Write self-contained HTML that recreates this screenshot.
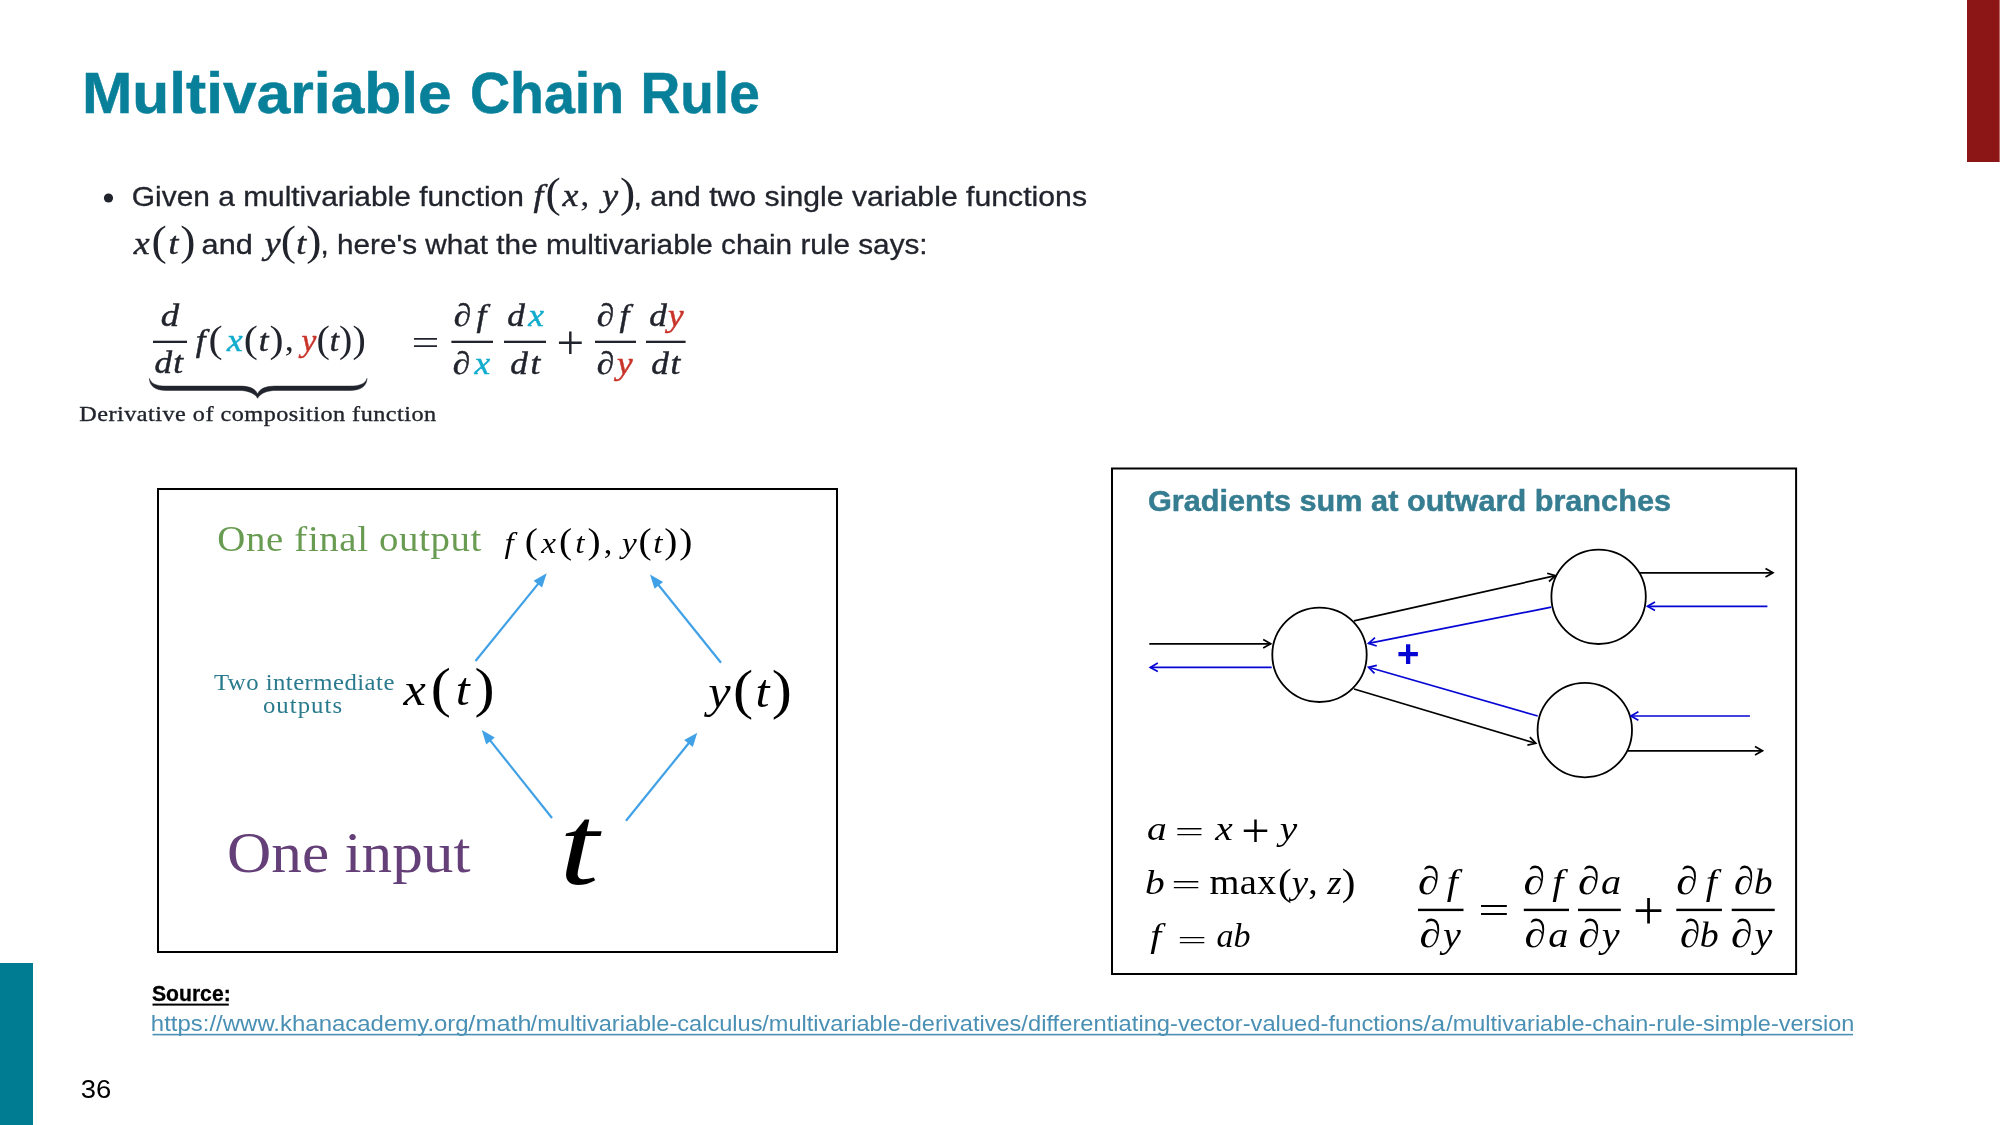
<!DOCTYPE html>
<html lang="en"><head><meta charset="utf-8"><title>Multivariable Chain Rule</title>
<style>html,body{margin:0;padding:0;background:#fff;overflow:hidden}svg{display:block}
#texts{will-change:opacity}text{white-space:pre}.s{font-family:"Liberation Sans", sans-serif}.sb{font-family:"Liberation Sans", sans-serif;font-weight:bold}.r{font-family:"Liberation Serif", serif}
</style></head><body>
<svg width="2000" height="1125" viewBox="0 0 2000 1125">
<rect width="2000" height="1125" fill="#fff"/>
<g id="shapes">
<rect x="1967" y="0" width="33" height="162" fill="#8c1515"/>
<rect x="1999.2" y="0" width="0.8" height="162" fill="#c98080"/>
<rect x="0" y="963" width="33" height="162" fill="#007c92"/>
<circle cx="108.5" cy="198" r="4.6" fill="#21242c"/>
<rect x="153.0" y="340.7" width="34.0" height="2.3" fill="#21242c"/>
<rect x="451.4" y="340.7" width="41.6" height="2.3" fill="#21242c"/>
<rect x="504.0" y="340.7" width="42.0" height="2.3" fill="#21242c"/>
<rect x="595.0" y="340.7" width="41.0" height="2.3" fill="#21242c"/>
<rect x="646.0" y="340.7" width="39.6" height="2.3" fill="#21242c"/>
<path d="M149.4,378.4 C151,383.5 156,386.1 166,386.1 L240,386.1 C250,386.1 255.5,389 257.6,394 C259.7,389 265,386.1 275,386.1 L350,386.1 C360,386.1 365.5,383.5 367,378.4 C366.8,386.5 360,390.4 350,390.4 L277,390.4 C267,390.4 260.5,393 257.6,398.3 C254.7,393 248,390.4 238,390.4 L166,390.4 C156,390.4 149.6,386.5 149.4,378.4 Z" fill="#21242c" stroke="#21242c" stroke-width="0.5" stroke-linejoin="round"/>
<rect x="158" y="489" width="679" height="463" fill="none" stroke="#000" stroke-width="2"/>
<line x1="475.5" y1="661.0" x2="539.1" y2="582.6" stroke="#41a1e6" stroke-width="2.2"/><polygon points="546.7,573.3 542.1,587.6 533.6,580.7" fill="#41a1e6"/>
<line x1="721.0" y1="662.7" x2="657.5" y2="583.8" stroke="#41a1e6" stroke-width="2.2"/><polygon points="650.0,574.4 663.1,581.9 654.5,588.8" fill="#41a1e6"/>
<line x1="552.0" y1="818.0" x2="489.3" y2="739.4" stroke="#41a1e6" stroke-width="2.2"/><polygon points="481.8,730.0 494.8,737.5 486.2,744.4" fill="#41a1e6"/>
<line x1="626.0" y1="820.7" x2="689.7" y2="742.0" stroke="#41a1e6" stroke-width="2.2"/><polygon points="697.3,732.7 692.8,747.0 684.2,740.1" fill="#41a1e6"/>
<path d="M1112,468.4 H1796.1 V974 H1112 Z" fill="none" stroke="#000" stroke-width="2"/>
<circle cx="1319.5" cy="654.8" r="47.2" fill="none" stroke="#000" stroke-width="1.8"/>
<circle cx="1598.6" cy="596.8" r="47.2" fill="none" stroke="#000" stroke-width="1.8"/>
<circle cx="1584.8" cy="730.1" r="47.2" fill="none" stroke="#000" stroke-width="1.8"/>
<line x1="1149.3" y1="643.8" x2="1270.7" y2="643.8" stroke="#000" stroke-width="1.7"/><polyline points="1263.2,648.0 1270.7,643.8 1263.2,639.5" fill="none" stroke="#000" stroke-width="1.7" stroke-linejoin="miter"/>
<line x1="1271.7" y1="667.4" x2="1150.3" y2="667.4" stroke="#0505d4" stroke-width="1.7"/><polyline points="1157.8,663.1 1150.3,667.4 1157.8,671.6" fill="none" stroke="#0505d4" stroke-width="1.7" stroke-linejoin="miter"/>
<line x1="1354.0" y1="620.8" x2="1555.4" y2="575.7" stroke="#000" stroke-width="1.7"/><polyline points="1549.0,581.5 1555.4,575.7 1547.2,573.2" fill="none" stroke="#000" stroke-width="1.7" stroke-linejoin="miter"/>
<line x1="1551.3" y1="607.2" x2="1368.5" y2="643.3" stroke="#0505d4" stroke-width="1.7"/><polyline points="1375.0,637.7 1368.5,643.3 1376.7,646.0" fill="none" stroke="#0505d4" stroke-width="1.7" stroke-linejoin="miter"/>
<line x1="1537.7" y1="716.0" x2="1368.5" y2="667.3" stroke="#0505d4" stroke-width="1.7"/><polyline points="1376.8,665.3 1368.5,667.3 1374.5,673.4" fill="none" stroke="#0505d4" stroke-width="1.7" stroke-linejoin="miter"/>
<line x1="1354.0" y1="689.0" x2="1535.8" y2="743.3" stroke="#000" stroke-width="1.7"/><polyline points="1527.4,745.2 1535.8,743.3 1529.9,737.1" fill="none" stroke="#000" stroke-width="1.7" stroke-linejoin="miter"/>
<line x1="1639.0" y1="572.8" x2="1773.0" y2="572.8" stroke="#000" stroke-width="1.7"/><polyline points="1765.5,577.0 1773.0,572.8 1765.5,568.5" fill="none" stroke="#000" stroke-width="1.7" stroke-linejoin="miter"/>
<line x1="1767.4" y1="606.3" x2="1647.5" y2="606.3" stroke="#0505d4" stroke-width="1.7"/><polyline points="1655.0,602.0 1647.5,606.3 1655.0,610.5" fill="none" stroke="#0505d4" stroke-width="1.7" stroke-linejoin="miter"/>
<line x1="1749.9" y1="716.0" x2="1630.9" y2="716.0" stroke="#0505d4" stroke-width="1.7"/><polyline points="1638.4,711.8 1630.9,716.0 1638.4,720.2" fill="none" stroke="#0505d4" stroke-width="1.7" stroke-linejoin="miter"/>
<line x1="1627.7" y1="750.8" x2="1762.5" y2="750.8" stroke="#000" stroke-width="1.7"/><polyline points="1755.0,755.0 1762.5,750.8 1755.0,746.5" fill="none" stroke="#000" stroke-width="1.7" stroke-linejoin="miter"/>
<rect x="1418.0" y="908.7" width="45.5" height="2.4" fill="#000"/>
<rect x="1523.8" y="908.7" width="45.2" height="2.4" fill="#000"/>
<rect x="1578.0" y="908.7" width="42.8" height="2.4" fill="#000"/>
<rect x="1676.3" y="908.7" width="45.6" height="2.4" fill="#000"/>
<rect x="1731.7" y="908.7" width="43.0" height="2.4" fill="#000"/>
<rect x="152.5" y="1003.6" width="76.3" height="2" fill="#000"/>
<rect x="152.5" y="1033.8" width="1700.5" height="1.6" fill="#4a90b4"/>
</g>
<g id="texts">
<text id="title1" class="sb" x="81.90" y="112.50" font-size="57.30" fill="#09809A" textLength="369.84" lengthAdjust="spacingAndGlyphs" stroke="#09809A" stroke-width="0.50">Multivariable</text>
<text id="title2" class="sb" x="469.97" y="112.50" font-size="57.30" fill="#09809A" textLength="154.24" lengthAdjust="spacingAndGlyphs" stroke="#09809A" stroke-width="0.50">Chain</text>
<text id="title3" class="sb" x="640.44" y="112.50" font-size="57.30" fill="#09809A" textLength="119.38" lengthAdjust="spacingAndGlyphs" stroke="#09809A" stroke-width="0.50">Rule</text>
<text id="b1a" class="s" x="131.87" y="206.00" font-size="27.50" fill="#21242c" textLength="391.98" lengthAdjust="spacingAndGlyphs" stroke="#21242c" stroke-width="0.30">Given a multivariable function</text>
<text id="b1m" class="r" transform="translate(533.57 206.00) scale(1.1000 1)" font-size="33.00" fill="#21242c" textLength="92.37" lengthAdjust="spacing" stroke="#21242c" stroke-width="0.45"><tspan font-style="italic" font-size="32.50">f</tspan><tspan stroke="none" font-size="41.50" dy="1.20">(</tspan><tspan font-style="italic" font-size="32.50" dy="-1.20">x</tspan><tspan stroke="none">, </tspan><tspan font-style="italic" font-size="32.50">y</tspan><tspan stroke="none" font-size="41.50" dy="1.20">)</tspan></text>
<text id="b1b" class="s" x="633.59" y="206.00" font-size="27.50" fill="#21242c" textLength="453.43" lengthAdjust="spacingAndGlyphs" stroke="#21242c" stroke-width="0.30">, and two single variable functions</text>
<text id="b2m1" class="r" transform="translate(133.74 254.00) scale(1.1000 1)" font-size="33.00" fill="#21242c" textLength="56.14" lengthAdjust="spacing" stroke="#21242c" stroke-width="0.45"><tspan font-style="italic" font-size="32.50">x</tspan><tspan stroke="none" font-size="41.50" dy="1.20">(</tspan><tspan font-style="italic" font-size="32.50" dy="-1.20">t</tspan><tspan stroke="none" font-size="41.50" dy="1.20">)</tspan></text>
<text id="b2a" class="s" x="201.63" y="254.00" font-size="27.50" fill="#21242c" textLength="51.13" lengthAdjust="spacingAndGlyphs" stroke="#21242c" stroke-width="0.30">and</text>
<text id="b2m2" class="r" transform="translate(264.74 254.00) scale(1.1000 1)" font-size="33.00" fill="#21242c" textLength="51.65" lengthAdjust="spacing" stroke="#21242c" stroke-width="0.45"><tspan font-style="italic" font-size="32.50">y</tspan><tspan stroke="none" font-size="41.50" dy="1.20">(</tspan><tspan font-style="italic" font-size="32.50" dy="-1.20">t</tspan><tspan stroke="none" font-size="41.50" dy="1.20">)</tspan></text>
<text id="b2b" class="s" x="320.48" y="254.00" font-size="27.50" fill="#21242c" textLength="607.17" lengthAdjust="spacingAndGlyphs" stroke="#21242c" stroke-width="0.30">, here's what the multivariable chain rule says:</text>
<text id="f1n" class="r" transform="translate(160.83 326.00) scale(1.1500 1)" font-size="32.00" fill="#21242c" textLength="16.00" lengthAdjust="spacing" stroke="#21242c" stroke-width="0.45"><tspan font-style="italic">d</tspan></text>
<text id="f1d" class="r" transform="translate(154.44 373.00) scale(1.1000 1)" font-size="32.00" fill="#21242c" textLength="26.04" lengthAdjust="spacing" stroke="#21242c" stroke-width="0.45"><tspan font-style="italic">dt</tspan></text>
<text id="f1f" class="r" transform="translate(195.81 351.00) scale(1.1000 1)" font-size="32.00" fill="#21242c" textLength="24.23" lengthAdjust="spacing" stroke="#21242c" stroke-width="0.45"><tspan font-style="italic">f</tspan><tspan stroke="none" font-size="38.40" dy="1.00">(</tspan></text>
<text id="f1x" class="r" transform="translate(227.05 351.00) scale(1.1000 1)" font-size="32.00" fill="#21242c" textLength="60.67" lengthAdjust="spacing" stroke="#21242c" stroke-width="0.45"><tspan font-style="italic" fill="#11accd" stroke="#11accd">x</tspan><tspan stroke="none" font-size="38.40" dy="1.00">(</tspan><tspan font-style="italic" dy="-1.00">t</tspan><tspan stroke="none" font-size="38.40" dy="1.00">)</tspan><tspan stroke="none" font-size="33.00" dy="-1.00">,</tspan></text>
<text id="f1t2" class="r" transform="translate(301.56 351.00) scale(1.0436 1)" font-size="32.00" fill="#21242c" textLength="61.56" lengthAdjust="spacing" stroke="#21242c" stroke-width="0.45"><tspan font-style="italic" fill="#c9342a" stroke="#c9342a">y</tspan><tspan stroke="none" font-size="38.40" dy="1.00">(</tspan><tspan font-style="italic" dy="-1.00">t</tspan><tspan stroke="none" font-size="38.40" dy="1.00">))</tspan></text>
<text id="f1lbl" class="r" transform="translate(79.30 421.00) scale(1.1000 1)" font-size="22.00" fill="#21242c" textLength="324.44" lengthAdjust="spacing" stroke="#21242c" stroke-width="0.35">Derivative of composition function</text>
<text id="f1eq" class="r" x="411.52" y="355.00" font-size="35.00" fill="#21242c" textLength="27.93" lengthAdjust="spacingAndGlyphs">=</text>
<text id="f2an" class="r" transform="translate(453.81 326.20) scale(1.1000 1)" font-size="32.00" fill="#21242c" textLength="29.43" lengthAdjust="spacing" stroke="#21242c" stroke-width="0.45"><tspan font-style="italic">∂f</tspan></text>
<text id="f2ad" class="r" transform="translate(452.81 373.50) scale(1.1000 1)" font-size="32.00" fill="#21242c" textLength="33.93" lengthAdjust="spacing" stroke="#21242c" stroke-width="0.45"><tspan font-style="italic">∂</tspan><tspan font-style="italic" fill="#11accd" stroke="#11accd">x</tspan></text>
<text id="f2bn" class="r" transform="translate(507.13 326.20) scale(1.1000 1)" font-size="32.00" fill="#21242c" textLength="33.50" lengthAdjust="spacing" stroke="#21242c" stroke-width="0.45"><tspan font-style="italic">d</tspan><tspan font-style="italic" fill="#11accd" stroke="#11accd">x</tspan></text>
<text id="f2bd" class="r" transform="translate(510.13 373.50) scale(1.1000 1)" font-size="32.00" fill="#21242c" textLength="27.51" lengthAdjust="spacing" stroke="#21242c" stroke-width="0.45"><tspan font-style="italic">dt</tspan></text>
<text id="f2pl" class="r" x="556.56" y="359.02" font-size="49.42" fill="#21242c" textLength="27.62" lengthAdjust="spacingAndGlyphs">+</text>
<text id="f2cn" class="r" transform="translate(596.81 326.20) scale(1.1000 1)" font-size="32.00" fill="#21242c" textLength="29.43" lengthAdjust="spacing" stroke="#21242c" stroke-width="0.45"><tspan font-style="italic">∂f</tspan></text>
<text id="f2cd" class="r" transform="translate(596.81 373.50) scale(1.1000 1)" font-size="32.00" fill="#21242c" textLength="32.64" lengthAdjust="spacing" stroke="#21242c" stroke-width="0.45"><tspan font-style="italic">∂</tspan><tspan font-style="italic" fill="#c9342a" stroke="#c9342a">y</tspan></text>
<text id="f2dn" class="r" transform="translate(649.13 326.20) scale(1.1000 1)" font-size="32.00" fill="#21242c" textLength="31.41" lengthAdjust="spacing" stroke="#21242c" stroke-width="0.45"><tspan font-style="italic">d</tspan><tspan font-style="italic" fill="#c9342a" stroke="#c9342a">y</tspan></text>
<text id="f2dd" class="r" transform="translate(651.13 373.50) scale(1.1000 1)" font-size="32.00" fill="#21242c" textLength="26.55" lengthAdjust="spacing" stroke="#21242c" stroke-width="0.45"><tspan font-style="italic">dt</tspan></text>
<text id="ofo" class="r" transform="translate(217.36 550.70) scale(1.1000 1)" font-size="35.30" fill="#699c52" textLength="240.05" lengthAdjust="spacing">One final output</text>
<text id="fxy1" class="r" transform="translate(504.53 552.50) scale(1.1000 1)" font-size="30.20" fill="#000" textLength="30.31" lengthAdjust="spacing"><tspan font-style="italic">f</tspan><tspan font-size="35.80" dy="0.90">(</tspan></text>
<text id="fxy2" class="r" transform="translate(541.15 552.50) scale(1.1000 1)" font-size="30.20" fill="#000" textLength="64.62" lengthAdjust="spacing"><tspan font-style="italic">x</tspan><tspan font-size="35.80" dy="0.90">(</tspan><tspan font-style="italic" dy="-0.90">t</tspan><tspan font-size="35.80" dy="0.90">)</tspan><tspan font-size="31.00" dy="-0.90">,</tspan></text>
<text id="fxy3" class="r" transform="translate(622.01 552.50) scale(1.1000 1)" font-size="30.20" fill="#000" textLength="63.92" lengthAdjust="spacing"><tspan font-style="italic">y</tspan><tspan font-size="35.80" dy="0.90">(</tspan><tspan font-style="italic" dy="-0.90">t</tspan><tspan font-size="35.80" dy="0.90">))</tspan></text>
<text id="two1" class="r" transform="translate(213.97 690.00) scale(1.1000 1)" font-size="22.50" fill="#2a7a8e" textLength="164.03" lengthAdjust="spacing">Two intermediate</text>
<text id="two2" class="r" transform="translate(262.93 713.30) scale(1.1000 1)" font-size="22.50" fill="#2a7a8e" textLength="71.90" lengthAdjust="spacing">outputs</text>
<text id="xt" class="r" transform="translate(403.53 704.80) scale(1.1000 1)" font-size="45.70" fill="#000" textLength="82.76" lengthAdjust="spacing"><tspan font-style="italic">x</tspan><tspan font-size="54.90" dy="1.40">(</tspan><tspan font-style="italic" dy="-1.40">t</tspan><tspan font-size="54.90" dy="1.40">)</tspan></text>
<text id="yt" class="r" transform="translate(708.24 706.70) scale(1.1000 1)" font-size="45.70" fill="#000" textLength="76.09" lengthAdjust="spacing"><tspan font-style="italic">y</tspan><tspan font-size="54.90" dy="1.40">(</tspan><tspan font-style="italic" dy="-1.40">t</tspan><tspan font-size="54.90" dy="1.40">)</tspan></text>
<text id="oi" class="r" transform="translate(227.05 872.00) scale(1.0745 1)" font-size="57.00" fill="#643f78" textLength="226.55" lengthAdjust="spacing">One input</text>
<text id="tt" class="r" transform="translate(559.35 884.40) scale(1.2500 1)" font-size="114.00" fill="#000" textLength="31.69" lengthAdjust="spacing"><tspan font-style="italic">t</tspan></text>
<text id="gh" class="sb" x="1147.92" y="510.80" font-size="30.30" fill="#367d91" textLength="523.09" lengthAdjust="spacingAndGlyphs" stroke="#367d91" stroke-width="0.50">Gradients sum at outward branches</text>
<text id="bp" class="sb" x="1396.87" y="667.00" font-size="39.44" fill="#0505d4" textLength="22.76" lengthAdjust="spacingAndGlyphs">+</text>
<text id="e1a" class="r" transform="translate(1147.12 839.50) scale(1.1500 1)" font-size="34.30" fill="#000" textLength="17.16" lengthAdjust="spacing"><tspan font-style="italic">a</tspan></text>
<text id="e1e" class="r" x="1174.76" y="841.18" font-size="26.64" fill="#000" textLength="29.24" lengthAdjust="spacingAndGlyphs">=</text>
<text id="e1x" class="r" transform="translate(1215.36 839.50) scale(1.1500 1)" font-size="34.30" fill="#000" textLength="15.23" lengthAdjust="spacing"><tspan font-style="italic">x</tspan></text>
<text id="e1p" class="r" x="1241.39" y="846.81" font-size="49.50" fill="#000" textLength="28.49" lengthAdjust="spacingAndGlyphs">+</text>
<text id="e1y" class="r" transform="translate(1279.63 839.50) scale(1.1500 1)" font-size="34.30" fill="#000" textLength="15.23" lengthAdjust="spacing"><tspan font-style="italic">y</tspan></text>
<text id="e2b" class="r" transform="translate(1144.92 893.50) scale(1.1500 1)" font-size="34.30" fill="#000" textLength="17.16" lengthAdjust="spacing"><tspan font-style="italic">b</tspan></text>
<text id="e2e" class="r" x="1171.22" y="894.18" font-size="26.98" fill="#000" textLength="29.64" lengthAdjust="spacingAndGlyphs">=</text>
<text id="e2m" class="r" transform="translate(1209.56 893.50) scale(1.1000 1)" font-size="35.00" fill="#000" textLength="60.72" lengthAdjust="spacing">max</text>
<text id="e2a" class="r" transform="translate(1278.11 893.50) scale(1.0773 1)" font-size="34.30" fill="#000" textLength="71.71" lengthAdjust="spacing"><tspan font-size="38.20" dy="1.00">(</tspan><tspan font-style="italic" dy="-1.00">y</tspan><tspan font-size="35.00">, </tspan><tspan font-style="italic">z</tspan><tspan font-size="38.20" dy="1.00">)</tspan></text>
<text id="e3f" class="r" transform="translate(1150.17 947.30) scale(1.1500 1)" font-size="34.30" fill="#000" textLength="9.53" lengthAdjust="spacing"><tspan font-style="italic">f</tspan></text>
<text id="e3e" class="r" x="1177.39" y="948.18" font-size="23.87" fill="#000" textLength="29.63" lengthAdjust="spacingAndGlyphs">=</text>
<text id="e3a" class="r" transform="translate(1216.49 947.30) scale(0.9922 1)" font-size="34.30" fill="#000" textLength="34.33" lengthAdjust="spacing"><tspan font-style="italic">ab</tspan></text>
<text id="gAn" class="r" transform="translate(1418.02 894.40) scale(1.1000 1)" font-size="37.00" fill="#000" textLength="36.20" lengthAdjust="spacing"><tspan font-style="italic" font-size="39.50">∂</tspan><tspan font-style="italic" font-size="36.50">f</tspan></text>
<text id="gAd" class="r" transform="translate(1419.52 946.70) scale(1.1000 1)" font-size="37.00" fill="#000" textLength="37.60" lengthAdjust="spacing"><tspan font-style="italic" font-size="39.50">∂</tspan><tspan font-style="italic" font-size="36.50">y</tspan></text>
<text id="gEq" class="r" x="1478.25" y="923.00" font-size="38.14" fill="#000" textLength="31.34" lengthAdjust="spacingAndGlyphs">=</text>
<text id="gBn" class="r" transform="translate(1523.52 894.40) scale(1.1000 1)" font-size="37.00" fill="#000" textLength="36.19" lengthAdjust="spacing"><tspan font-style="italic" font-size="39.50">∂</tspan><tspan font-style="italic" font-size="36.50">f</tspan></text>
<text id="gBd" class="r" transform="translate(1524.52 946.70) scale(1.1000 1)" font-size="37.00" fill="#000" textLength="39.73" lengthAdjust="spacing"><tspan font-style="italic" font-size="39.50">∂</tspan><tspan font-style="italic" font-size="36.50">a</tspan></text>
<text id="gCn" class="r" transform="translate(1578.02 894.40) scale(1.1000 1)" font-size="37.00" fill="#000" textLength="39.19" lengthAdjust="spacing"><tspan font-style="italic" font-size="39.50">∂</tspan><tspan font-style="italic" font-size="36.50">a</tspan></text>
<text id="gCd" class="r" transform="translate(1578.52 946.70) scale(1.1000 1)" font-size="37.00" fill="#000" textLength="37.25" lengthAdjust="spacing"><tspan font-style="italic" font-size="39.50">∂</tspan><tspan font-style="italic" font-size="36.50">y</tspan></text>
<text id="gPl" class="r" x="1632.98" y="928.90" font-size="55.92" fill="#000" textLength="31.06" lengthAdjust="spacingAndGlyphs">+</text>
<text id="gDn" class="r" transform="translate(1676.20 894.40) scale(1.1000 1)" font-size="37.00" fill="#000" textLength="37.06" lengthAdjust="spacing"><tspan font-style="italic" font-size="39.50">∂</tspan><tspan font-style="italic" font-size="36.50">f</tspan></text>
<text id="gDd" class="r" transform="translate(1679.99 946.70) scale(1.0364 1)" font-size="37.00" fill="#000" textLength="37.20" lengthAdjust="spacing"><tspan font-style="italic" font-size="39.50">∂</tspan><tspan font-style="italic" font-size="36.50">b</tspan></text>
<text id="gEn" class="r" transform="translate(1733.90 894.40) scale(1.0165 1)" font-size="37.00" fill="#000" textLength="38.05" lengthAdjust="spacing"><tspan font-style="italic" font-size="39.50">∂</tspan><tspan font-style="italic" font-size="36.50">b</tspan></text>
<text id="gEd" class="r" transform="translate(1730.92 946.70) scale(1.1000 1)" font-size="37.00" fill="#000" textLength="37.70" lengthAdjust="spacing"><tspan font-style="italic" font-size="39.50">∂</tspan><tspan font-style="italic" font-size="36.50">y</tspan></text>
<text id="src" class="sb" x="151.95" y="1000.50" font-size="22.30" fill="#000" textLength="78.75" lengthAdjust="spacingAndGlyphs" stroke="#000" stroke-width="0.30">Source:</text>
<text id="u0" class="s" x="150.89" y="1030.50" font-size="21.20" fill="#4a90b4" textLength="317.81" lengthAdjust="spacingAndGlyphs">https://www.khanacademy.org</text>
<text id="u1" class="s" x="468.39" y="1030.50" font-size="21.20" fill="#4a90b4" textLength="63.32" lengthAdjust="spacingAndGlyphs">/math</text>
<text id="u2" class="s" x="530.64" y="1030.50" font-size="21.20" fill="#4a90b4" textLength="231.83" lengthAdjust="spacingAndGlyphs">/multivariable-calculus</text>
<text id="u3" class="s" x="762.25" y="1030.50" font-size="21.20" fill="#4a90b4" textLength="259.04" lengthAdjust="spacingAndGlyphs">/multivariable-derivatives</text>
<text id="u4" class="s" x="1021.39" y="1030.50" font-size="21.20" fill="#4a90b4" textLength="402.05" lengthAdjust="spacingAndGlyphs">/differentiating-vector-valued-functions</text>
<text id="u5" class="s" x="1423.55" y="1030.50" font-size="21.20" fill="#4a90b4" textLength="21.66" lengthAdjust="spacingAndGlyphs">/a</text>
<text id="u6" class="s" x="1446.25" y="1030.50" font-size="21.20" fill="#4a90b4" textLength="408.09" lengthAdjust="spacingAndGlyphs">/multivariable-chain-rule-simple-version</text>
<text id="pg" class="s" x="80.89" y="1098.00" font-size="25.00" fill="#000" textLength="30.48" lengthAdjust="spacingAndGlyphs">36</text>
</g>
</svg>
</body></html>
